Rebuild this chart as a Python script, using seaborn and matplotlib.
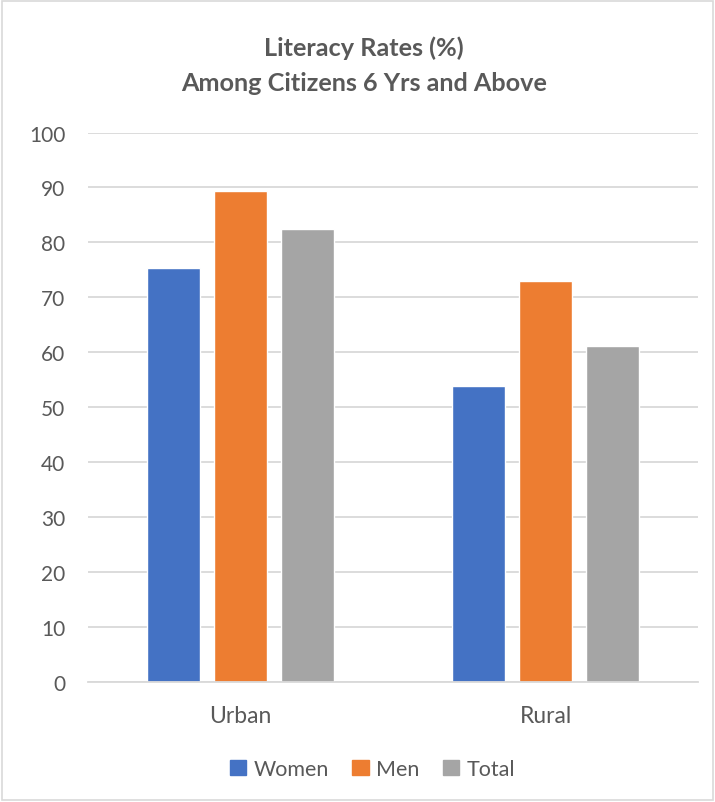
import matplotlib.pyplot as plt
import matplotlib.patches as mpatches
import pandas as pd
import seaborn as sns

# values
areas = ['Urban', 'Rural']
women = [75.3, 53.8]
men = [89.4, 72.9]
total = [82.5, 61.2]

series_names = ['Women', 'Men', 'Total']
colors = ['#4472C4', '#ED7D31', '#A5A5A5']
y_ticks = list(range(0, 101, 10))

df = pd.DataFrame({
    'area': areas * 3,
    'group': [s for s in series_names for _ in areas],
    'rate': women + men + total,
})

sns.set_theme(style='white')
plt.rcParams['font.family'] = ['Lato', 'DejaVu Sans']
text_col = '#595959'
grid_col = '#D9D9D9'

fig = plt.figure(figsize=(7.15, 8.03), dpi=100)
ax = fig.add_axes([0.1225, 0.1500, 0.854, 0.6837])

sns.barplot(data=df, x='area', y='rate', hue='group', order=areas,
            hue_order=series_names, palette=colors, width=0.657, gap=0.209,
            saturation=1, ax=ax, legend=False)

ax.set_ylim(0, 100)
ax.set_xlim(-0.5, 1.5)
ax.set_yticks(y_ticks)
ax.yaxis.grid(True, color=grid_col, linewidth=1.3)
ax.set_axisbelow(True)
for side in ['left', 'right', 'top']:
    ax.spines[side].set_visible(False)
ax.spines['bottom'].set_color(grid_col)
ax.spines['bottom'].set_linewidth(1.3)
ax.tick_params(axis='both', length=0, labelcolor=text_col)
ax.tick_params(axis='y', pad=16, labelsize=15)
ax.tick_params(axis='x', pad=17, labelsize=16.5)
ax.set_xlabel('')
ax.set_ylabel('')

fig.text(0.509, 0.918, 'Literacy Rates (%)\nAmong Citizens 6 Yrs and Above',
         ha='center', va='center', fontsize=18.2, fontweight='bold',
         color=text_col, linespacing=1.6)

handles = [mpatches.Patch(color=c, label=n) for c, n in zip(colors, series_names)]
fig.legend(handles=handles, loc='center', bbox_to_anchor=(0.521, 0.041),
           ncol=3, frameon=False, fontsize=15.5, labelcolor=text_col,
           handlelength=0.75, handleheight=0.75, handletextpad=0.35,
           columnspacing=1.1)

fig.patches.append(mpatches.Rectangle((0.003, 0.003), 0.994, 0.994,
                                      transform=fig.transFigure, fill=False,
                                      edgecolor=grid_col, linewidth=1.2))

fig.savefig('out.png', dpi=100)
